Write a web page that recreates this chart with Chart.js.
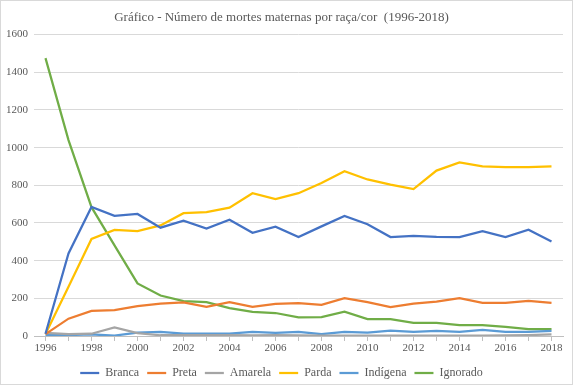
<!DOCTYPE html>
<html>
<head>
<meta charset="utf-8">
<script src="https://cdn.jsdelivr.net/npm/chart.js@4/dist/chart.umd.min.js"></script>
<style>
  html, body { margin: 0; padding: 0; background: #fff; }
  #wrap { width: 573px; height: 385px; position: relative; }
</style>
</head>
<body>
<div id="wrap"><canvas id="chart" width="573" height="385"></canvas></div>
<script>
const years = ['1996','1997','1998','1999','2000','2001','2002','2003','2004','2005','2006','2007',
  '2008','2009','2010','2011','2012','2013','2014','2015','2016','2017','2018'];

const branca   = [12, 438, 685, 638, 648, 575, 612, 570, 617, 548, 580, 526, 582, 637, 593, 525, 531, 526, 525, 557, 525, 564, 502];
const preta    = [10, 92, 133, 138, 158, 172, 178, 155, 180, 155, 170, 175, 165, 201, 180, 154, 172, 182, 201, 176, 176, 187, 176];
const amarela  = [16, 10, 12, 46, 15, 4, 5, 5, 5, 3, 5, 3, 2, 2, 2, 2, 2, 2, 2, 2, 3, 5, 8];
const parda    = [10, 261, 515, 563, 557, 587, 652, 658, 681, 758, 727, 758, 812, 875, 831, 804, 780, 878, 922, 901, 896, 896, 901];
const indigena = [5, 5, 8, 2, 18, 22, 12, 12, 12, 22, 17, 22, 10, 22, 18, 28, 22, 27, 22, 32, 22, 22, 27];
const ignorado = [1475, 1040, 684, 481, 279, 215, 185, 180, 148, 128, 122, 99, 100, 129, 90, 90, 70, 70, 58, 58, 48, 37, 37];

const yTicks = [0, 200, 400, 600, 800, 1000, 1200, 1400, 1600];

const serif = '"Liberation Serif", "Times New Roman", serif';

const frame = {
  id: 'frame',
  beforeDraw(chart) {
    const c = chart.ctx;
    c.save();
    c.fillStyle = '#fff';
    c.fillRect(0, 0, chart.width, chart.height);
    c.strokeStyle = '#d9d9d9';
    c.lineWidth = 1;
    c.strokeRect(0.5, 0.5, chart.width - 1, chart.height - 1);
    c.restore();
  }
};

function line(label, data, color) {
  return {
    label: label,
    data: data,
    borderColor: color,
    backgroundColor: color,
    borderWidth: 2.25,
    pointRadius: 0,
    fill: false,
    tension: 0
  };
}

const ctx = document.getElementById('chart').getContext('2d');
new Chart(ctx, {
  type: 'line',
  data: {
    labels: years,
    datasets: [
      line('Branca', branca, '#4472C4'),
      line('Preta', preta, '#ED7D31'),
      line('Amarela', amarela, '#A5A5A5'),
      line('Parda', parda, '#FFC000'),
      line('Indígena', indigena, '#5B9BD5'),
      line('Ignorado', ignorado, '#70AD47')
    ]
  },
  options: {
    responsive: false,
    animation: false,
    layout: { padding: { left: 0, right: 10, top: 0, bottom: -4 } },
    plugins: {
      title: {
        display: true,
        text: 'Gráfico - Número de mortes maternas por raça/cor  (1996-2018)',
        color: '#595959',
        font: { family: serif, size: 13, weight: 'normal' },
        padding: { top: 10, bottom: 9 }
      },
      legend: {
        position: 'bottom',
        labels: {
          usePointStyle: true,
          pointStyle: 'line',
          pointStyleWidth: 19,
          boxHeight: 12,
          color: '#595959',
          padding: 8,
          font: { family: serif, size: 12 }
        }
      },
      tooltip: { enabled: false }
    },
    scales: {
      x: {
        offset: true,
        grid: {
          drawOnChartArea: false,
          drawTicks: true,
          tickLength: 5,
          color: '#bfbfbf'
        },
        border: { display: true, color: '#bfbfbf' },
        ticks: {
          autoSkip: false,
          maxRotation: 0,
          color: '#595959',
          padding: 1,
          font: { family: serif, size: 11 },
          callback: function (v, i) { return i % 2 === 0 ? years[i] : ''; }
        },
        afterFit: function (s) { s.height = 23; }
      },
      y: {
        min: 0,
        max: 1600,
        afterBuildTicks: function (s) { s.ticks = yTicks.map(v => ({ value: v })); },
        grid: { color: '#d9d9d9', drawTicks: false },
        border: { display: false },
        ticks: {
          color: '#595959',
          padding: 6,
          font: { family: serif, size: 11 },
          callback: function (v) { return String(v); }
        },
        afterFit: function (s) { s.width = 34; }
      }
    }
  },
  plugins: [frame]
});
</script>
</body>
</html>
